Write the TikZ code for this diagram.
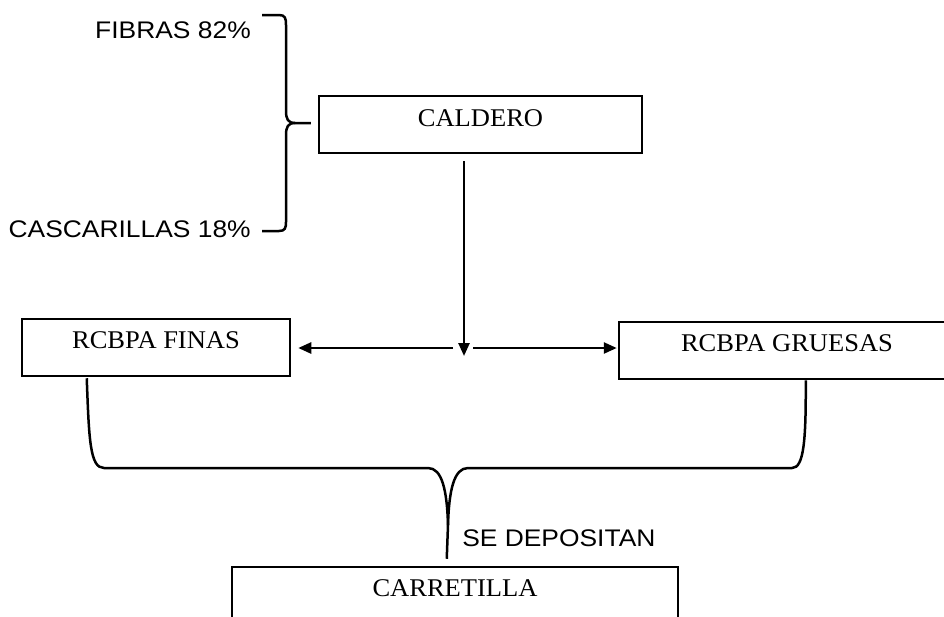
\documentclass[tikz,border=0pt]{standalone}
\usepackage{fontspec}
\setmainfont{Liberation Serif}
\newfontfamily\arialf{Liberation Sans}[FakeStretch=1.1]
\newfontfamily\timesf{Liberation Serif}[FakeStretch=1.04]
\usetikzlibrary{arrows.meta,calc}
\begin{document}
\begin{tikzpicture}[x=1pt,y=-1pt, line width=2.5pt,
  box/.style={draw, line width=2.5pt, inner sep=0pt},
  boxtext/.style={font=\timesf\fontsize{25.5}{30}\selectfont, inner sep=0pt},
  lab/.style={font=\arialf\fontsize{24}{28}\selectfont, inner sep=0pt},
  arr/.style={-{Triangle[length=13pt,width=11pt]}, line width=2.5pt}]
\useasboundingbox (0,0) rectangle (944,616);
% boxes
\node[box, minimum width=323pt, minimum height=57pt] (cald) at (480.5,124.5) {};
\node[boxtext] (caldt) at ([yshift=-23pt]cald.north) {CALDERO};
\node[box, minimum width=268pt, minimum height=57pt] (finas) at (156,347.5) {};
\node[boxtext] (finast) at ([yshift=-22pt]finas.north) {RCBPA FINAS};
\node[box, minimum width=336pt, minimum height=57pt] (grues) at (787,350.5) {};
\node[boxtext] (gruest) at ([yshift=-22pt]grues.north) {RCBPA GRUESAS};
\node[box, minimum width=446pt, minimum height=70pt] (carr) at (455,602) {};
\node[boxtext] (carrt) at ([yshift=-22pt]carr.north) {CARRETILLA};
% labels
\node[lab, anchor=east] (fib) at (252,30) {FIBRAS 82\%};
\node[lab, anchor=east] (casc) at (252,229) {CASCARILLAS 18\%};
\node[lab, anchor=west] (sedep) at (461,538) {SE DEPOSITAN};
% top brace
\coordinate (btop) at (262,15);
\coordinate (bbot) at (262,231);
\coordinate (btip) at ($(cald.west)+(-7,-1.5)$);
\draw (btop) -- (279,15) .. controls (285,15) and (286,18) .. (286,25)
  -- (286,111) .. controls (286,119) and (288,123) .. (295,123) -- (btip);
\draw (295,123) .. controls (288,123) and (286,127) .. (286,135)
  -- (286,222) .. controls (286,228) and (285,231) .. (279,231) -- (bbot);
% arrows
\coordinate (split) at (464,348);
\draw[arr, shorten <=7pt] (cald.south -| split) -- ([yshift=-8pt]split);
\draw[arr, shorten >=7pt] ([xshift=-11pt]split) -- (finas.east |- split);
\draw[arr, shorten >=1pt] ([xshift=9pt]split) -- (grues.west |- split);
% bottom brace
\coordinate (bl) at ($(finas.south west)+(66,1)$);
\coordinate (br) at ($(grues.south west)+(188,0)$);
\coordinate (stem) at ($(carr.north west)+(216,-7)$);
\draw (bl) .. controls (89,440) and (90,468) .. (104,468) -- (428,468)
  .. controls (442,468) and (447,490) .. (448,525) -- (stem);
\draw (448,525) .. controls (449,490) and (454,468) .. (468,468) -- (792,468)
  .. controls (804,468) and (806,440) .. (br);
\end{tikzpicture}
\end{document}
